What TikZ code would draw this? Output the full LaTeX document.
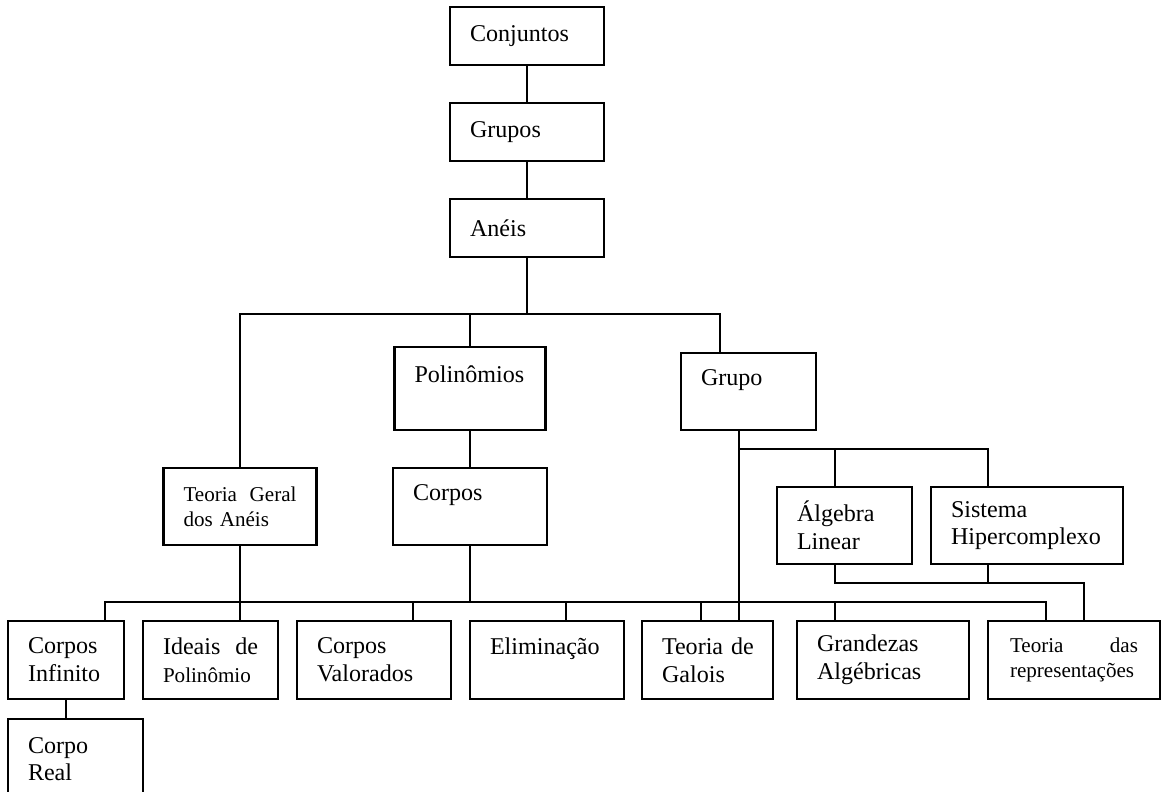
\documentclass[tikz,border=0pt]{standalone}
\usepackage{fontspec}
\setmainfont{Liberation Serif}
\begin{document}
\begin{tikzpicture}[
    box/.style={draw, line width=1.2pt, align=left, inner xsep=4mm, inner ysep=0pt,
        minimum height=15.4mm, font=\fontsize{13.7}{15.8}\selectfont},
    small/.style={font=\fontsize{12}{14}\selectfont},
    link/.style={line width=1.2pt}
]
    \useasboundingbox (0,0) rectangle (23.22,15.82);
    \clip (0,0) rectangle (23.22,15.82);

    % Top chain
    \node[box, text width=2.28cm, minimum height=11.6mm] (conj) at (10.54,15.1) {Conjuntos};
    \node[box, text width=2.28cm, minimum height=11.6mm] (grupos) at (10.54,13.18) {Grupos};
    \node[box, text width=2.28cm, minimum height=11.6mm] (aneis) at (10.54,11.26) {Anéis};

    % Second level
    \node[box, text width=2.22cm, minimum height=16.6mm] (polin) at (9.4,8.05) {Polinômios\\~};
    \node[box, text width=1.9cm] (grupo) at (14.97,7.99) {Grupo\\~};

    % Third level
    \node[box, small, text width=2.26cm] (tgeral) at (4.8,5.69) {Teoria \hfill Geral\\dos Anéis};
    \node[box, text width=2.28cm] (corpos) at (9.4,5.69) {Corpos\\~};
    \node[box, text width=1.9cm] (algebra) at (16.89,5.31) {Álgebra\\Linear};
    \node[box, text width=3.04cm] (sistema) at (20.54,5.31) {Sistema\\Hipercomplexo};

    % Bottom row
    \node[box, text width=1.52cm, minimum height=15.6mm] (cinf) at (1.32,2.62) {Corpos\\Infinito};
    \node[box, text width=1.9cm, minimum height=15.6mm] (ideais) at (4.21,2.62) {Ideais \hfill de\\{\fontsize{12}{14}\selectfont Polinômio}};
    \node[box, text width=2.28cm, minimum height=15.6mm] (cval) at (7.48,2.62) {Corpos\\Valorados};
    \node[box, text width=2.28cm, minimum height=15.6mm] (elim) at (10.94,2.62) {Eliminação\\~};
    \node[box, text width=1.82cm, minimum height=15.6mm] (galois) at (14.15,2.62) {Teoria~de\\Galois};
    \node[box, text width=2.64cm, minimum height=15.6mm] (grand) at (17.66,2.62) {Grandezas\\Algébricas};
    \node[box, small, text width=2.56cm, inner xsep=4.4mm, minimum height=15.6mm] (trep) at (21.48,2.62) {Teoria \hfill das\\representações};
    \node[box, text width=1.9cm, minimum height=16mm, anchor=north] (creal) at (1.51,1.46) {Corpo\\Real};

    % Bus levels and line ends
    \coordinate (b1) at (0,9.54);
    \coordinate (b2) at (0,6.84);
    \coordinate (b3) at (0,3.78);
    \coordinate (b4) at (0,4.16);
    \coordinate (gin) at ([xshift=-5.7mm]grupo.north);
    \coordinate (gout) at ([xshift=-1.9mm]grupo.south);
    \coordinate (ain) at ([xshift=-1.9mm]algebra.north);
    \coordinate (aout) at ([xshift=-1.9mm]algebra.south);
    \coordinate (sin) at ([xshift=-7.8mm]sistema.north);
    \coordinate (sout) at ([xshift=-7.8mm]sistema.south);
    \coordinate (rin) at ([xshift=2mm]trep.north);
    \coordinate (rbus) at ([xshift=-5.6mm]trep.north);
    \coordinate (cin) at ([xshift=7.8mm]cinf.north);
    \coordinate (vin) at ([xshift=7.8mm]cval.north);
    \coordinate (ein) at ([xshift=3.8mm]elim.north);
    \coordinate (lin) at ([xshift=-1.3mm]galois.north);

    % Top connections
    \draw[link] (conj.south) -- (grupos.north);
    \draw[link] (grupos.south) -- (aneis.north);
    \draw[link] (aneis.south) -- (aneis.south |- b1);
    \draw[link] (tgeral.north) -- (tgeral.north |- b1) -- (gin |- b1) -- (gin);
    \draw[link] (polin.north) -- (polin.north |- b1);
    \draw[link] (corpos.north |- polin.south) -- (corpos.north);

    % Grupo branch
    \draw[link] (gout) -- (gout |- galois.north);
    \draw[link] (gout |- b2) -- (sin |- b2) -- (sin);
    \draw[link] (ain |- b2) -- (ain);
    \draw[link] (aout) -- (aout |- b4) -- (rin |- b4) -- (rin);
    \draw[link] (sout) -- (sout |- b4);

    % Bottom bus
    \draw[link] (tgeral.south) -- (tgeral.south |- ideais.north);
    \draw[link] (corpos.south) -- (corpos.south |- b3);
    \draw[link] (cin) -- (cin |- b3) -- (rbus |- b3) -- (rbus);
    \draw[link] (vin) -- (vin |- b3);
    \draw[link] (ein) -- (ein |- b3);
    \draw[link] (lin) -- (lin |- b3);
    \draw[link] (ain |- grand.north) -- (ain |- b3);
    \draw[link] (cinf.south) -- (cinf.south |- creal.north);
\end{tikzpicture}
\end{document}
